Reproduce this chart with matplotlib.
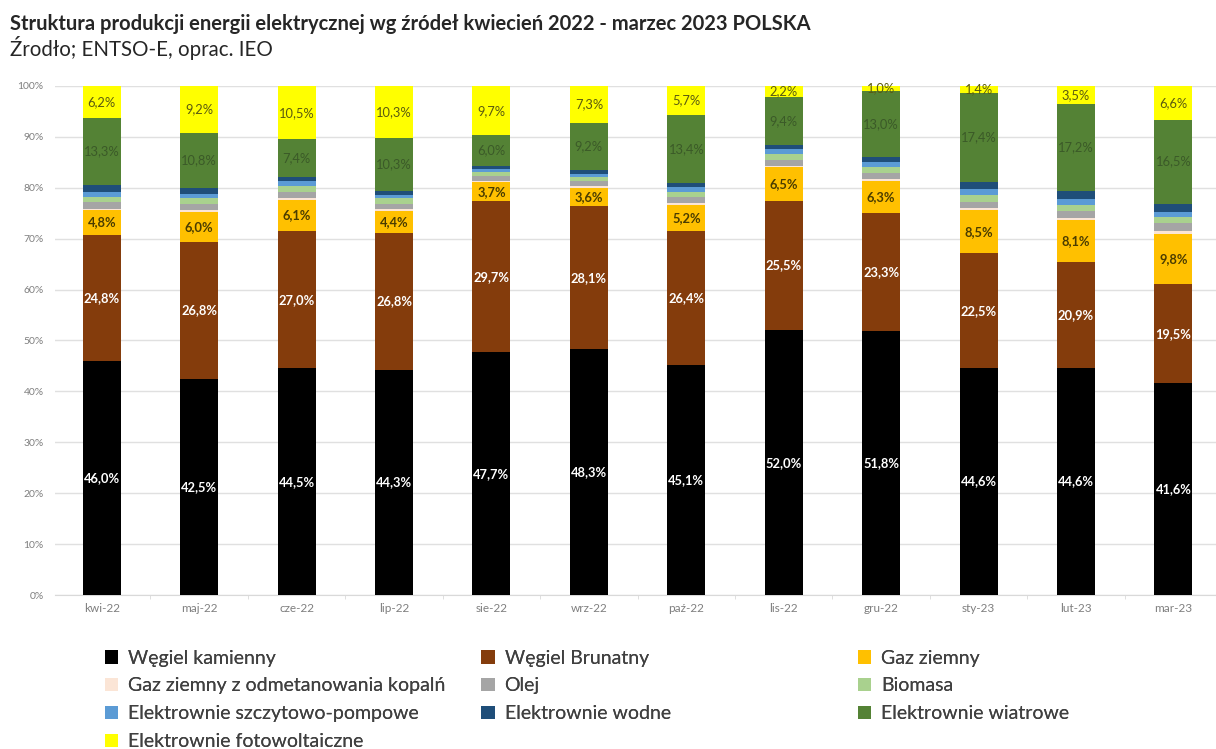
import numpy as np
import matplotlib
matplotlib.use("Agg")
import matplotlib.pyplot as plt
from matplotlib.patches import Patch

plt.rcParams['font.family'] = ['Lato', 'DejaVu Sans']

# miesiące
miesiace = ['kwi-22', 'maj-22', 'cze-22', 'lip-22', 'sie-22', 'wrz-22',
            'paź-22', 'lis-22', 'gru-22', 'sty-23', 'lut-23', 'mar-23']

# udziały źródeł [%]
wegiel_kamienny = [46.0, 42.5, 44.5, 44.3, 47.7, 48.3, 45.1, 52.0, 51.8, 44.6, 44.6, 41.6]
wegiel_brunatny = [24.8, 26.8, 27.0, 26.8, 29.7, 28.1, 26.4, 25.5, 23.3, 22.5, 20.9, 19.5]
gaz_ziemny = [4.8, 6.0, 6.1, 4.4, 3.7, 3.6, 5.2, 6.5, 6.3, 8.5, 8.1, 9.8]
gaz_odmetanowanie = [0.3, 0.4, 0.4, 0.3, 0.3, 0.3, 0.3, 0.3, 0.3, 0.4, 0.5, 0.6]
olej = [1.4, 1.1, 1.1, 1.1, 1.0, 1.1, 1.2, 1.2, 1.2, 1.3, 1.4, 1.5]
biomasa = [0.9, 1.2, 1.3, 1.1, 0.8, 0.7, 1.0, 1.2, 1.1, 1.2, 1.2, 1.2]
pompowe = [0.9, 0.8, 0.9, 0.6, 0.5, 0.6, 0.9, 0.9, 1.0, 1.2, 1.0, 1.1]
wodne = [1.4, 1.2, 0.8, 0.8, 0.6, 0.8, 0.8, 0.8, 1.0, 1.5, 1.6, 1.6]
wiatrowe = [13.3, 10.8, 7.4, 10.3, 6.0, 9.2, 13.4, 9.4, 13.0, 17.4, 17.2, 16.5]
fotowoltaika = [6.2, 9.2, 10.5, 10.3, 9.7, 7.3, 5.7, 2.2, 1.0, 1.4, 3.5, 6.6]

nazwy = ['Węgiel kamienny', 'Węgiel Brunatny', 'Gaz ziemny',
         'Gaz ziemny z odmetanowania kopalń', 'Olej', 'Biomasa',
         'Elektrownie szczytowo-pompowe', 'Elektrownie wodne', 'Elektrownie wiatrowe',
         'Elektrownie fotowoltaiczne']
serie = [wegiel_kamienny, wegiel_brunatny, gaz_ziemny, gaz_odmetanowanie, olej,
         biomasa, pompowe, wodne, wiatrowe, fotowoltaika]
kolory = ['#000000', '#843c0c', '#ffc000', '#fbe5d6', '#a5a5a5', '#a9d18e',
          '#5b9bd5', '#1f4e79', '#548235', '#ffff00']

# styl etykiet: (kolor, grubość) - None = bez etykiety
etykiety = [('white', 'bold'), ('white', 'bold'), ('#4a3c00', 'bold'), None, None,
            None, None, None, ('#3b5a28', 'normal'), ('#5a5a10', 'normal')]

fig = plt.figure(figsize=(12.16, 7.49), dpi=100)
ax = fig.add_axes([0.045, 0.2056, 0.955, 0.6796])

x = np.arange(len(miesiace))
dol = np.zeros(len(miesiace))
for wartosci, kolor, et in zip(serie, kolory, etykiety):
    w = np.array(wartosci)
    ax.bar(x, w, 0.39, bottom=dol, color=kolor, zorder=3)
    if et is not None:
        for xi, b, v in zip(x, dol, w):
            ax.text(xi, b + v / 2, f'{v:.1f}%'.replace('.', ','), ha='center', va='center',
                    fontsize=9.3, color=et[0], fontweight=et[1], zorder=4)
    dol += w

ax.set_xlim(-0.483, 11.437)
ax.set_ylim(0, 100)
ax.set_yticks(np.arange(0, 101, 10))
ax.set_yticklabels([f'{v}%' for v in range(0, 101, 10)], fontsize=7.5, color='#7f7f7f')
ax.set_xticks(x)
ax.set_xticklabels(miesiace, fontsize=8.5, color='#7f7f7f')
ax.set_xticks(x[:-1] + 0.5, minor=True)
ax.tick_params(axis='x', which='major', length=0, pad=6)
ax.tick_params(axis='x', which='minor', length=3, color='#d9d9d9')
ax.tick_params(axis='y', length=0, pad=8)
ax.grid(axis='y', color='#e0e0e0', linewidth=1, zorder=0)
for s in ['top', 'right', 'left']:
    ax.spines[s].set_visible(False)
ax.spines['bottom'].set_color('#d9d9d9')

fig.text(0.008, 0.968, 'Struktura produkcji energii elektrycznej wg źródeł kwiecień 2022 - marzec 2023 POLSKA',
         fontsize=14.5, fontweight='bold', color='#262626', va='center')
fig.text(0.008, 0.936, 'Źrodło; ENTSO-E, oprac. IEO', fontsize=14.8, color='#262626', va='center')

# legenda w trzech kolumnach o stałej szerokości
uchwyty = [Patch(facecolor=k, edgecolor='none') for k in kolory]
kolumny = [[0, 3, 6, 9], [1, 4, 7], [2, 5, 8]]
for nr, idx in enumerate(kolumny):
    leg = fig.legend([uchwyty[i] for i in idx], [nazwy[i] for i in idx],
                     loc='upper left', bbox_to_anchor=(0.083 + nr * 0.3095, 0.138),
                     frameon=False, fontsize=14, handlelength=0.7, handleheight=0.7,
                     handletextpad=0.5, labelspacing=0.56, borderaxespad=0, borderpad=0.2,
                     labelcolor='#404040')
    fig.add_artist(leg)

fig.savefig('out.png', dpi=100)
